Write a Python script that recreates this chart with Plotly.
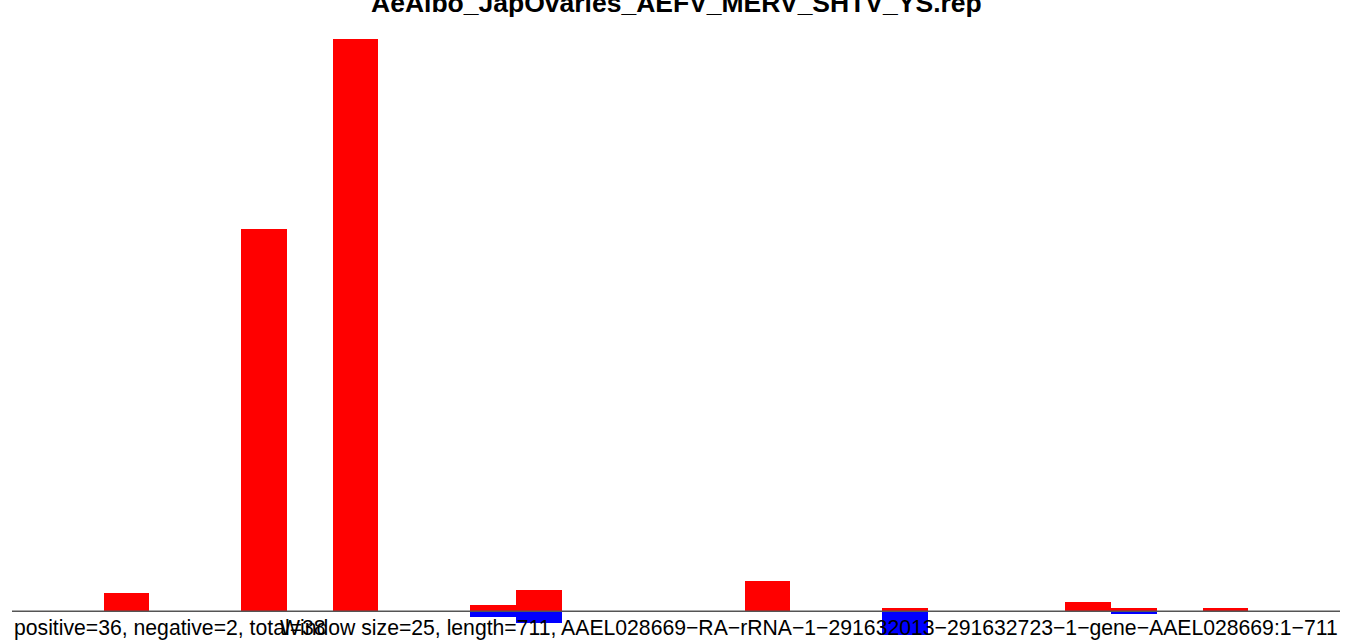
import plotly.graph_objects as go

title = "AeAlbo_JapOvaries_AEFV_MERV_SHTV_YS.rep"
n_bins = 29
bins = list(range(n_bins))
pos_bins = [2, 5, 7, 10, 11, 16, 19, 23, 24, 26]
pos_vals = [6, 127, 190, 2, 7, 10, 1, 3, 1, 1]
neg_bins = [10, 11, 19, 24]
neg_vals = [-2, -4, -8, -1]
left_text = "positive=36, negative=2, total=38"
right_text = "Window size=25, length=711, AAEL028669\u2212RA\u2212rRNA\u22121\u2212291632013\u2212291632723\u22121\u2212gene\u2212AAEL028669:1\u2212711"

W, H = 1355, 643
FONT = "Liberation Sans, Arial, Helvetica, sans-serif"

fig = go.Figure()
fig.add_trace(go.Bar(x=[b + 0.5 for b in neg_bins], y=neg_vals, width=1,
                     marker=dict(color="#0000FF", line=dict(width=0)), showlegend=False))
fig.add_trace(go.Bar(x=[b + 0.5 for b in pos_bins], y=pos_vals, width=1,
                     marker=dict(color="#FF0000", line=dict(width=0)), showlegend=False))

fig.add_shape(type="line", xref="x", yref="y", x0=0, x1=n_bins, y0=0, y1=0,
              line=dict(color="#555555", width=1.5), layer="above")

fig.add_annotation(text="<b>" + title + "</b>", xref="paper", yref="paper",
                   x=0.5, y=1, yshift=36, xanchor="center", yanchor="middle",
                   showarrow=False, font=dict(family=FONT, size=26.5, color="black"))
fig.add_annotation(text=left_text, xref="paper", yref="paper", x=0, y=0,
                   yshift=12, xanchor="left", yanchor="middle", showarrow=False,
                   font=dict(family=FONT, size=21.2, color="black"))
fig.add_annotation(text=right_text, xref="paper", yref="paper", x=1, y=0,
                   yshift=12, xanchor="right", yanchor="middle", showarrow=False,
                   font=dict(family=FONT, size=21.2, color="black"))

fig.update_layout(
    width=W, height=H, barmode="overlay", bargap=0,
    paper_bgcolor="white", plot_bgcolor="white",
    margin=dict(l=12, r=15, t=39, b=3),
    xaxis=dict(range=[0, n_bins], visible=False, fixedrange=True),
    yaxis=dict(range=[-9.53, 190], visible=False, fixedrange=True),
)
fig.write_html("out.html", config={"displayModeBar": False},
               post_script="document.body.style.margin='0';document.body.style.overflow='hidden';")
